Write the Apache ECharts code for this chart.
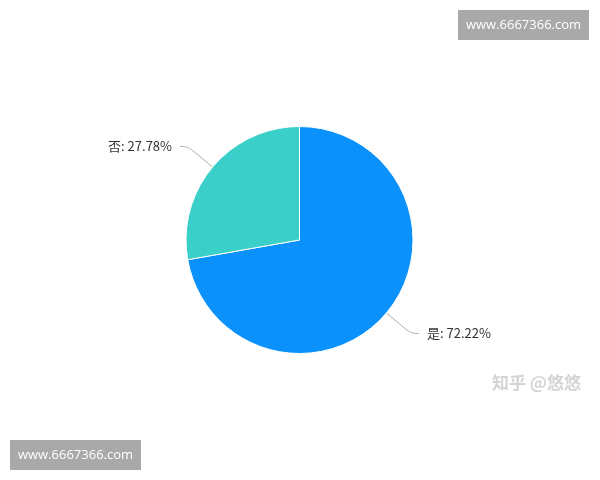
<!DOCTYPE html>
<html>
<head>
<meta charset="utf-8" />
<title>是否 饼图</title>
<script src="https://cdn.jsdelivr.net/npm/echarts@6/dist/echarts.min.js"></script>
<style>
  html, body { margin: 0; padding: 0; background: #fff; }
  #chartmain { width: 600px; height: 480px; }
</style>
</head>
<body>
<div id="chartmain"></div>
<script type="text/javascript">
  // data
  var categories = ['是', '否'];
  var values = [72.22, 27.78];
  var colors = ['#0a91fb', '#3acfc8'];
  var siteMark = 'www.6667366.com';
  var authorMark = '知乎 @悠悠';

  var pieData = [];
  for (var i = 0; i < categories.length; i++) {
    pieData.push({ name: categories[i], value: values[i] });
  }

  function markBox(x, y) {
    return {
      type: 'group',
      left: x,
      top: y,
      children: [
        { type: 'rect', shape: { x: 0, y: 0, width: 131, height: 30 }, style: { fill: '#a9a9a9' } },
        { type: 'text', x: 65.5, y: 15, style: { text: siteMark, fill: '#fff', font: '13px "Open Sans"', align: 'center', verticalAlign: 'middle' } }
      ]
    };
  }

  var myChart = echarts.init(document.getElementById('chartmain'));
  var option = {
    backgroundColor: '#fff',
    animation: false,
    color: colors,
    series: [
      {
        type: 'pie',
        center: [299.5, 240],
        radius: 113.5,
        startAngle: 90,
        data: pieData,
        itemStyle: { borderColor: '#fff', borderWidth: 1 },
        label: {
          formatter: '{b}: {d}%',
          color: '#333',
          fontSize: 13,
          fontFamily: '"Noto Sans CJK SC", sans-serif',
          distanceToLabelLine: 8
        },
        labelLine: {
          length: 32,
          length2: 8,
          smooth: 0.4,
          lineStyle: { color: '#aaa', width: 1 }
        }
      }
    ],
    graphic: [
      markBox(458, 10),
      markBox(10, 440),
      {
        type: 'text',
        left: 492,
        top: 374,
        style: { text: authorMark, fill: '#d4d4d4', font: 'bold 17px "Noto Sans CJK SC"' }
      }
    ]
  };
  myChart.setOption(option);
</script>
</body>
</html>
